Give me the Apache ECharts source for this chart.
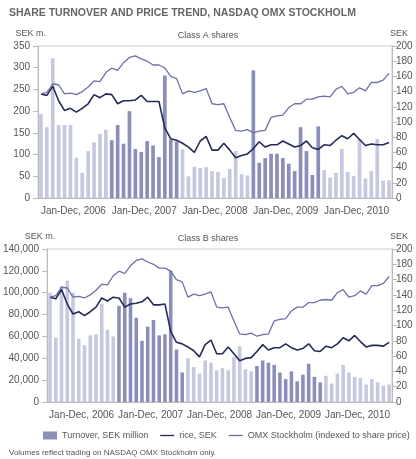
<!DOCTYPE html><html><head><meta charset="utf-8"><script src="https://cdn.jsdelivr.net/npm/echarts@6/dist/echarts.min.js"></script>
<style>body{margin:0}#c{width:416px;height:459px}</style></head><body><div id="c"></div><script>
const years=['Jan-Dec, 2006','Jan-Dec, 2007','Jan-Dec, 2008','Jan-Dec, 2009','Jan-Dec, 2010'];
const months=[];for(let y=2006;y<=2010;y++)for(let m=1;m<=12;m++)months.push(y+'-'+m);
const tA=[193,163,322,168,168,168,93,58,108,128,148,157, 133,168,125,200,113,106,131,121,94,282,135,130, 112,50,72,69,71,62,60,46,67,108,55,52, 294,81,92,102,102,92,79,62,163,108,53,165, 64,47,58,113,60,51,135,45,62,136,40,41];
const priceA=[137,135,147,128,115,118,113,118,124,136,132,137,136,124,128,128,129,135,127,127,127,92,78,76,72,67,60,75,81,63,63,72,63,53,56,58,65,74,67,70,70,75,71,67,69,75,66,64,70,69,76,82,78,85,77,69,71,70,70,73];
const omxA=[137,139,150,149,137,138,136,140,146,154,153,165,171,168,178,185,187,183,180,175,175,171,160,157,137,141,139,141,144,124,123,124,106,89,88,90,86,88,89,106,108,109,119,124,124,130,130,133,134,133,143,147,137,139,145,141,152,152,155,164];
const tB=[100,59,106,111,100,58,52,61,62,90,66,60, 88,100,95,77,56,69,75,61,62,120,48,27, 40,32,26,38,36,29,31,29,41,51,30,28, 33,38,36,34,27,21,28,19,25,35,23,18, 24,17,26,34,27,23,22,16,21,18,15,16].map(v=>v*1000);
const priceB=[137,135,147,128,115,118,113,118,124,136,132,137,136,124,128,129,131,137,127,127,128,92,78,76,72,67,59,75,81,63,63,72,63,54,57,58,66,75,68,71,71,76,71,68,70,76,67,66,73,71,76,84,80,87,79,72,74,74,73,78];
const omxB=omxA.slice();
const L='#c6c8e0',D='#8c8eba',PC='#262a58',OC='#6e70a8',G='#555';
function colored(arr){return arr.map((v,i)=>({value:v,itemStyle:{color:(Math.floor(i/12)%2)?D:L}}));}
const grids=[{left:38,right:24,top:46,height:152},{left:38,right:24,top:249,height:153}];
const xAxis=[],yAxis=[],series=[];
[[tA,priceA,omxA,350,50,v=>v],[tB,priceB,omxB,140000,20000,v=>v.toLocaleString('en-US')]].forEach((d,g)=>{
 xAxis.push({gridIndex:g,type:'category',data:months,axisLabel:{show:false},axisTick:{show:false},axisLine:{lineStyle:{color:'#bbb'}}});
 xAxis.push({gridIndex:g,type:'category',data:years,position:'bottom',axisLine:{show:false},axisTick:{show:false},axisLabel:{color:G,fontSize:10,margin:8,interval:0}});
 yAxis.push({gridIndex:g,min:0,max:d[3],interval:d[4],name:'SEK m.',nameGap:8,nameTextStyle:{color:G,fontSize:9,align:'right',padding:[0,-8,0,0]},axisLabel:{color:G,fontSize:10,formatter:d[5]},axisLine:{show:true,lineStyle:{color:'#bbb'}},axisTick:{show:true,lineStyle:{color:'#bbb'}},splitLine:{show:false}});
 yAxis.push({gridIndex:g,min:0,max:200,interval:20,name:'SEK',nameGap:8,nameTextStyle:{color:G,fontSize:9,padding:[0,0,0,14]},axisLabel:{color:G,fontSize:10,margin:4},axisLine:{show:true,lineStyle:{color:'#bbb'}},axisTick:{show:true,lineStyle:{color:'#bbb'}},splitLine:{show:false}});
 series.push({name:'Turnover, SEK million',type:'bar',xAxisIndex:2*g,yAxisIndex:2*g,data:colored(d[0]),barWidth:'62%',itemStyle:{color:D}});
 series.push({name:'rice, SEK',type:'line',xAxisIndex:2*g,yAxisIndex:2*g+1,data:d[1],symbol:'none',lineStyle:{color:PC,width:1.6},itemStyle:{color:PC}});
 series.push({name:'OMX Stockholm (indexed to share price)',type:'line',xAxisIndex:2*g,yAxisIndex:2*g+1,data:d[2],symbol:'none',lineStyle:{color:OC,width:1.3},itemStyle:{color:OC}});
});
const lineIcon='path://M0,4L16,4L16,5.5L0,5.5Z';
const ch=echarts.init(document.getElementById('c'));
ch.setOption({animation:false,
 title:[{text:'SHARE TURNOVER AND PRICE TREND, NASDAQ OMX STOCKHOLM',left:4,top:3,textStyle:{fontSize:10.5,fontWeight:'bold',color:'#666'}},
 {text:'Class A shares',left:'center',top:26,textStyle:{fontSize:9,fontWeight:'normal',color:G}},
 {text:'Class B shares',left:'center',top:229,textStyle:{fontSize:9,fontWeight:'normal',color:G}},
 {text:'Volumes reflect trading on NASDAQ OMX Stockholm only.',left:4,top:444,textStyle:{fontSize:8,fontWeight:'normal',color:G}}],
 grid:grids.map(g=>Object.assign({show:true,borderColor:'#ccc',borderWidth:1},g)),
 xAxis,yAxis,series,
 legend:{data:[{name:'Turnover, SEK million',icon:'rect'},{name:'rice, SEK',icon:lineIcon},{name:'OMX Stockholm (indexed to share price)',icon:lineIcon}],top:426,left:38,right:0,itemGap:12,itemWidth:14,itemHeight:8,textStyle:{fontSize:9,color:G}}
});
</script></body></html>
